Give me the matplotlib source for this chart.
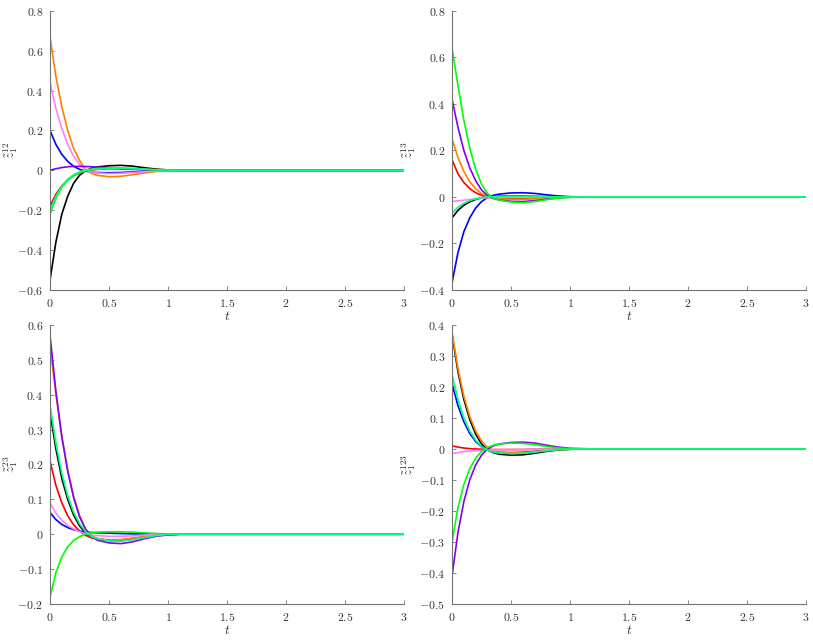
import matplotlib
matplotlib.use("Agg")
import matplotlib.pyplot as plt
from matplotlib.ticker import FuncFormatter, MultipleLocator

plt.rcParams['mathtext.fontset'] = 'cm'
plt.rcParams['font.family'] = 'serif'
plt.rcParams['font.serif'] = ['cmr10', 'DejaVu Serif']
plt.rcParams['axes.unicode_minus'] = False

# time samples shared by every curve
t = [0, 0.05, 0.1, 0.15, 0.2, 0.25, 0.3, 0.35, 0.4, 0.5, 0.6, 0.7, 0.8, 0.9, 1.0, 1.1, 1.2, 3.0]

colors = {
    'black': '#000000', 'red': '#ff0000', 'blue': '#0000ff', 'orange': '#ff8000',
    'pink': '#ff80ff', 'purple': '#8000ff', 'green': '#00ff00', 'mint': '#00ff80',
}
draw_order = ['black', 'red', 'blue', 'orange', 'pink', 'purple', 'green', 'mint']

# z_1^12
z12 = {
    'orange': [0.67, 0.47, 0.32, 0.2, 0.11, 0.05, 0.005, -0.015, -0.025, -0.032, -0.03, -0.022, -0.013, -0.006, -0.002, 0, 0, 0],
    'pink':   [0.44, 0.31, 0.21, 0.13, 0.07, 0.03, 0.005, -0.008, -0.013, -0.016, -0.015, -0.011, -0.007, -0.003, -0.001, 0, 0, 0],
    'blue':   [0.2, 0.13, 0.08, 0.045, 0.02, 0.005, -0.004, -0.009, -0.011, -0.012, -0.011, -0.008, -0.005, -0.002, -0.001, 0, 0, 0],
    'purple': [0, 0.008, 0.014, 0.018, 0.02, 0.02, 0.019, 0.018, 0.016, 0.012, 0.008, 0.005, 0.003, 0.001, 0, 0, 0, 0],
    'black':  [-0.55, -0.36, -0.22, -0.13, -0.065, -0.025, -0.002, 0.01, 0.017, 0.023, 0.025, 0.021, 0.013, 0.006, 0.002, 0, 0, 0],
    'red':    [-0.18, -0.12, -0.078, -0.048, -0.027, -0.013, -0.004, 0.002, 0.005, 0.008, 0.008, 0.007, 0.005, 0.003, 0.001, 0, 0, 0],
    'green':  [-0.22, -0.14, -0.085, -0.05, -0.027, -0.012, -0.003, 0.003, 0.006, 0.009, 0.01, 0.008, 0.005, 0.002, 0.001, 0, 0, 0],
    'mint':   [-0.205, -0.13, -0.08, -0.045, -0.022, -0.008, 0.001, 0.006, 0.009, 0.012, 0.012, 0.01, 0.006, 0.003, 0.001, 0, 0, 0],
}

# z_1^13
z13 = {
    'green':  [0.64, 0.48, 0.33, 0.21, 0.12, 0.055, 0.015, -0.005, -0.014, -0.022, -0.025, -0.02, -0.012, -0.005, -0.002, 0, 0, 0],
    'purple': [0.42, 0.3, 0.2, 0.125, 0.07, 0.03, 0.006, -0.007, -0.013, -0.019, -0.02, -0.016, -0.01, -0.004, -0.001, 0, 0, 0],
    'orange': [0.25, 0.17, 0.11, 0.065, 0.035, 0.014, 0.002, -0.005, -0.008, -0.01, -0.01, -0.008, -0.005, -0.002, -0.001, 0, 0, 0],
    'red':    [0.16, 0.1, 0.062, 0.036, 0.018, 0.007, 0, -0.004, -0.006, -0.008, -0.008, -0.006, -0.004, -0.002, -0.001, 0, 0, 0],
    'pink':   [-0.02, -0.017, -0.014, -0.011, -0.008, -0.006, -0.004, -0.003, -0.002, -0.001, 0, 0, 0, 0, 0, 0, 0, 0],
    'mint':   [-0.07, -0.045, -0.028, -0.016, -0.008, -0.003, 0, 0.001, 0.002, 0.002, 0.002, 0.001, 0, 0, 0, 0, 0, 0],
    'black':  [-0.09, -0.058, -0.036, -0.021, -0.011, -0.004, 0, 0.002, 0.003, 0.003, 0.003, 0.002, 0.001, 0, 0, 0, 0, 0],
    'blue':   [-0.37, -0.24, -0.15, -0.09, -0.048, -0.02, -0.003, 0.007, 0.012, 0.017, 0.018, 0.015, 0.009, 0.004, 0.001, 0, 0, 0],
}

# z_1^23
z23 = {
    'purple': [0.57, 0.41, 0.28, 0.18, 0.105, 0.05, 0.015, -0.006, -0.017, -0.025, -0.027, -0.022, -0.013, -0.006, -0.002, 0, 0, 0],
    'orange': [0.54, 0.4, 0.28, 0.185, 0.11, 0.055, 0.015, -0.004, -0.012, -0.017, -0.016, -0.012, -0.007, -0.003, -0.001, 0, 0, 0],
    'mint':   [0.37, 0.26, 0.175, 0.11, 0.063, 0.03, 0.008, -0.006, -0.013, -0.019, -0.02, -0.016, -0.01, -0.004, -0.001, 0, 0, 0],
    'black':  [0.35, 0.245, 0.16, 0.1, 0.055, 0.024, 0.004, -0.008, -0.014, -0.018, -0.018, -0.014, -0.008, -0.003, -0.001, 0, 0, 0],
    'red':    [0.21, 0.14, 0.09, 0.053, 0.027, 0.009, -0.003, -0.01, -0.014, -0.017, -0.016, -0.012, -0.007, -0.003, -0.001, 0, 0, 0],
    'pink':   [0.09, 0.06, 0.04, 0.025, 0.015, 0.007, 0.002, -0.002, -0.004, -0.006, -0.006, -0.005, -0.003, -0.001, 0, 0, 0, 0],
    'blue':   [0.062, 0.042, 0.028, 0.019, 0.013, 0.009, 0.006, 0.005, 0.004, 0.003, 0.002, 0.001, 0.001, 0, 0, 0, 0, 0],
    'green':  [-0.18, -0.11, -0.065, -0.036, -0.018, -0.007, 0, 0.004, 0.006, 0.007, 0.007, 0.006, 0.004, 0.002, 0.001, 0, 0, 0],
}

# z_1^123
z123 = {
    'orange': [0.375, 0.26, 0.17, 0.105, 0.058, 0.026, 0.005, -0.006, -0.011, -0.013, -0.012, -0.009, -0.005, -0.002, -0.001, 0, 0, 0],
    'black':  [0.37, 0.25, 0.16, 0.095, 0.048, 0.016, -0.003, -0.012, -0.017, -0.02, -0.019, -0.014, -0.008, -0.003, -0.001, 0, 0, 0],
    'mint':   [0.24, 0.16, 0.1, 0.058, 0.028, 0.008, -0.004, -0.01, -0.013, -0.015, -0.014, -0.01, -0.006, -0.002, -0.001, 0, 0, 0],
    'blue':   [0.21, 0.14, 0.088, 0.05, 0.024, 0.007, -0.003, -0.008, -0.011, -0.012, -0.011, -0.008, -0.005, -0.002, -0.001, 0, 0, 0],
    'red':    [0.01, 0.006, 0.003, 0.001, 0, -0.001, -0.002, -0.002, -0.002, -0.002, -0.002, -0.001, -0.001, 0, 0, 0, 0, 0],
    'pink':   [-0.015, -0.012, -0.009, -0.007, -0.006, -0.005, -0.004, -0.003, -0.003, -0.002, -0.002, -0.001, -0.001, 0, 0, 0, 0, 0],
    'green':  [-0.3, -0.19, -0.115, -0.064, -0.03, -0.008, 0.005, 0.012, 0.016, 0.019, 0.018, 0.014, 0.008, 0.003, 0.001, 0, 0, 0],
    'purple': [-0.41, -0.27, -0.17, -0.1, -0.052, -0.02, 0.0, 0.01, 0.016, 0.021, 0.022, 0.019, 0.012, 0.006, 0.002, 0.001, 0, 0],
}

panels = [
    (z12, r'$\tilde{z}_1^{12}$', (-0.6, 0.8), 0.2, [0.0615, 0.547, 0.4355, 0.436], -0.085),
    (z13, r'$\tilde{z}_1^{13}$', (-0.4, 0.8), 0.2, [0.556, 0.547, 0.4355, 0.436], -0.095),
    (z23, r'$\tilde{z}_1^{23}$', (-0.2, 0.6), 0.1, [0.0615, 0.0563, 0.4355, 0.436], -0.085),
    (z123, r'$\tilde{z}_1^{123}$', (-0.5, 0.4), 0.1, [0.556, 0.0563, 0.4355, 0.436], -0.095),
]


def fmt(v, pos):
    v = round(v, 6) + 0.0
    return '$%g$' % v


fig = plt.figure(figsize=(8.13, 6.4), dpi=100)
for data, ylab, ylim, ystep, pos, labx in panels:
    ax = fig.add_axes(pos)
    for name in draw_order:
        ax.plot(t, data[name], color=colors[name], lw=1.2)
    ax.set_xlim(0, 3)
    ax.set_ylim(*ylim)
    ax.xaxis.set_major_locator(MultipleLocator(0.5))
    ax.yaxis.set_major_locator(MultipleLocator(ystep))
    ax.xaxis.set_major_formatter(FuncFormatter(fmt))
    ax.yaxis.set_major_formatter(FuncFormatter(fmt))
    for spine in ['top', 'right']:
        ax.spines[spine].set_visible(False)
    for spine in ['left', 'bottom']:
        ax.spines[spine].set_color('0.45')
        ax.spines[spine].set_linewidth(0.8)
    ax.tick_params(direction='in', length=3, width=0.6, color='0.45',
                   labelsize=8.5, labelcolor='0.2', pad=5)
    ax.set_xlabel(r'$t$', fontsize=9.5, color='0.2', labelpad=1)
    ax.set_ylabel(ylab, fontsize=9.5, color='0.2')
    ax.yaxis.set_label_coords(labx, 0.5)

fig.savefig('out.png', dpi=100)
